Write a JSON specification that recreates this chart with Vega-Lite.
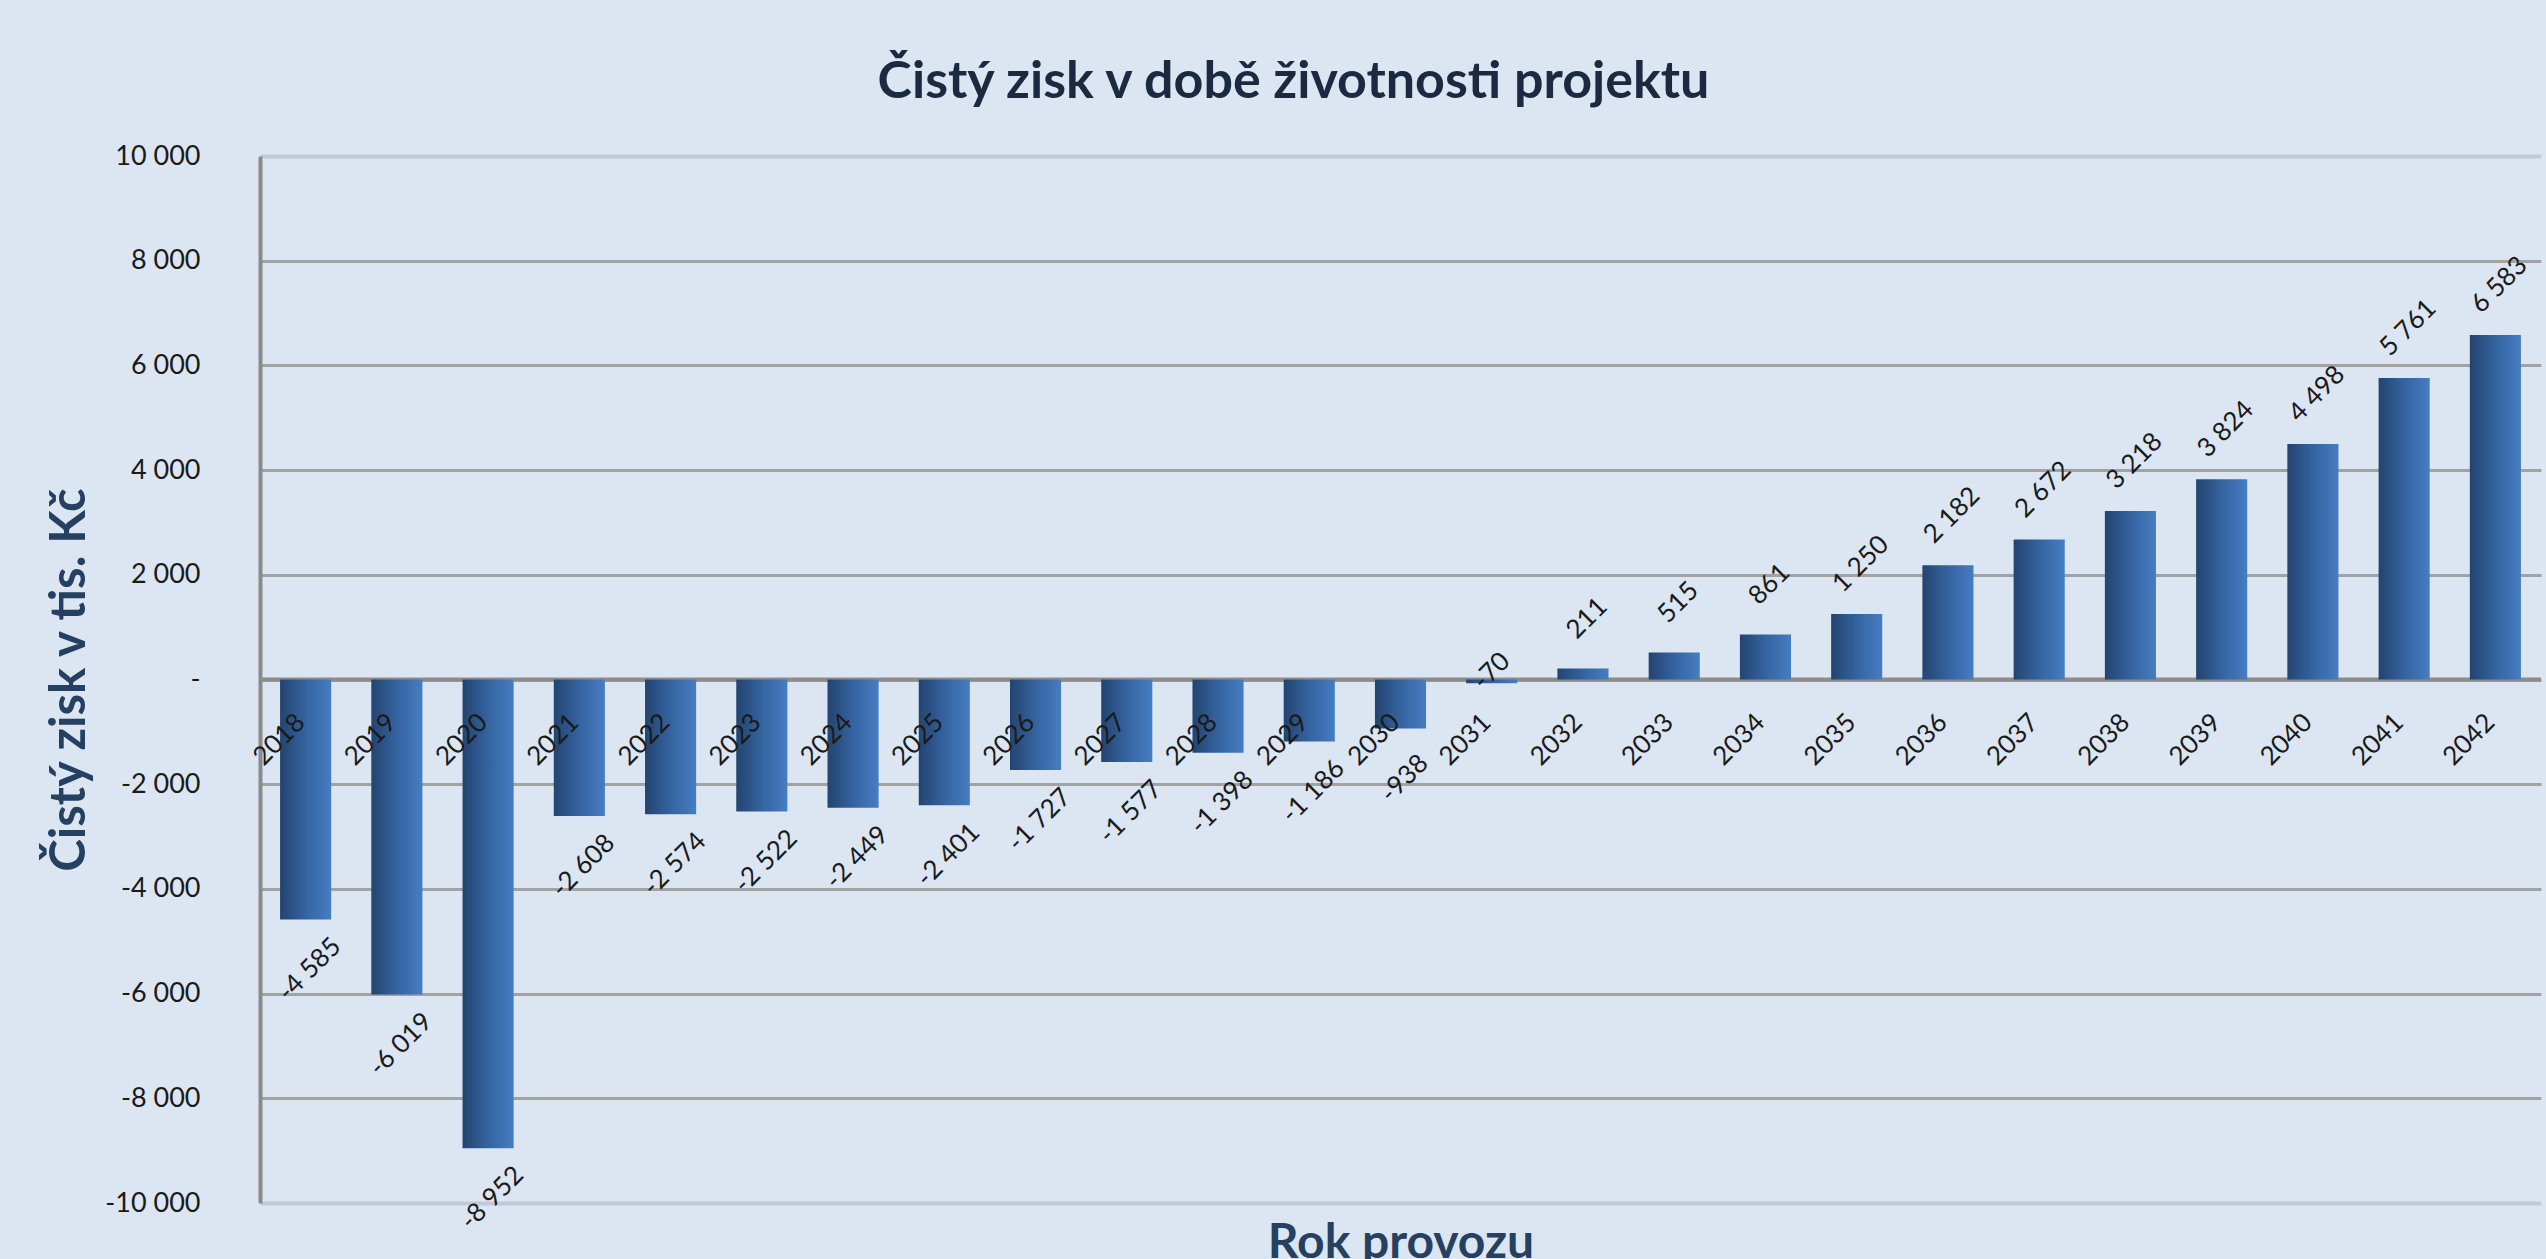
{
  "$schema": "https://vega.github.io/schema/vega-lite/v6.json",
  "width": 2281,
  "height": 1047,
  "autosize": {"type": "none"},
  "padding": {"left": 260, "top": 156, "right": 5, "bottom": 56},
  "background": "#dce6f2",
  "config": {
    "locale": {"number": {"decimal": ",", "thousands": " ", "grouping": [3], "currency": ["", ""], "minus": "-"}},
    "view": {"stroke": null},
    "font": "Lato"
  },
  "title": {
    "text": "Čistý zisk v době životnosti projektu",
    "font": "Lato",
    "fontSize": 52,
    "fontWeight": "bold",
    "color": "#1b2a40",
    "anchor": "middle",
    "dx": -107,
    "dy": 64,
    "baseline": "alphabetic",
    "offset": 56
  },
  "data": {
    "values": [
      {"rok": "2018", "zisk": -4585},
      {"rok": "2019", "zisk": -6019},
      {"rok": "2020", "zisk": -8952},
      {"rok": "2021", "zisk": -2608},
      {"rok": "2022", "zisk": -2574},
      {"rok": "2023", "zisk": -2522},
      {"rok": "2024", "zisk": -2449},
      {"rok": "2025", "zisk": -2401},
      {"rok": "2026", "zisk": -1727},
      {"rok": "2027", "zisk": -1577},
      {"rok": "2028", "zisk": -1398},
      {"rok": "2029", "zisk": -1186},
      {"rok": "2030", "zisk": -938},
      {"rok": "2031", "zisk": -70},
      {"rok": "2032", "zisk": 211},
      {"rok": "2033", "zisk": 515},
      {"rok": "2034", "zisk": 861},
      {"rok": "2035", "zisk": 1250},
      {"rok": "2036", "zisk": 2182},
      {"rok": "2037", "zisk": 2672},
      {"rok": "2038", "zisk": 3218},
      {"rok": "2039", "zisk": 3824},
      {"rok": "2040", "zisk": 4498},
      {"rok": "2041", "zisk": 5761},
      {"rok": "2042", "zisk": 6583}
    ]
  },
  "layer": [
    {
      "data": {"values": [{"nula": 0}]},
      "mark": {"type": "rule", "color": "#8c8c8c", "strokeWidth": 4},
      "encoding": {
        "y": {
          "field": "nula",
          "type": "quantitative",
          "scale": {"domain": [-10000, 10000], "nice": false},
          "axis": {
            "values": [-10000, -8000, -6000, -4000, -2000, 0, 2000, 4000, 6000, 8000, 10000],
            "labelExpr": "datum.value == 0 ? '-\u00a0' : format(datum.value, ',.0f')",
            "labelFont": "Lato",
            "labelFontSize": 27,
            "labelColor": "#1a1a1a",
            "labelPadding": 60,
            "ticks": false,
            "domain": true,
            "domainColor": "#8a8a8a",
            "domainWidth": 4,
            "grid": true,
            "gridColor": {"condition": {"test": "abs(datum.value) == 10000", "value": "#c3cad6"}, "value": "#a2a2a2"},
            "gridWidth": {"condition": {"test": "abs(datum.value) == 10000", "value": 4}, "value": 3},
            "title": "Čistý zisk v tis. Kč",
            "titleFont": "Lato",
            "titleFontSize": 49,
            "titleFontWeight": "bold",
            "titleColor": "#254061",
            "titleAngle": -90,
            "titleAlign": "center",
            "titleBaseline": "alphabetic",
            "titleX": -176,
            "titleY": 523.5
          }
        }
      }
    },
    {
      "mark": {
        "type": "bar",
        "color": {
          "gradient": "linear",
          "x1": 0, "y1": 0, "x2": 1, "y2": 0,
          "stops": [
            {"offset": 0, "color": "#23446f"},
            {"offset": 0.5, "color": "#3563a0"},
            {"offset": 1, "color": "#467dc2"}
          ]
        }
      },
      "encoding": {
        "x": {
          "field": "rok",
          "type": "ordinal",
          "sort": null,
          "scale": {"paddingInner": 0.44, "paddingOuter": 0.22},
          "axis": {
            "labels": false,
            "ticks": false,
            "domain": false,
            "title": "Rok provozu",
            "titleFont": "Lato",
            "titleFontSize": 48,
            "titleFontWeight": "bold",
            "titleColor": "#254061",
            "titleBaseline": "alphabetic",
            "titleY": 54
          }
        },
        "y": {"field": "zisk", "type": "quantitative"}
      }
    },
    {
      "transform": [{"filter": "datum.zisk >= 0"}],
      "mark": {"type": "text", "angle": -45, "align": "center", "baseline": "middle", "font": "Lato", "fontSize": 26, "color": "#1a1a1a", "yOffset": -50, "xOffset": 4},
      "encoding": {
        "x": {"field": "rok", "type": "ordinal", "sort": null},
        "y": {"field": "zisk", "type": "quantitative"},
        "text": {"field": "zisk", "type": "quantitative", "format": ",.0f"}
      }
    },
    {
      "transform": [{"filter": "datum.zisk < -100"}],
      "mark": {"type": "text", "angle": -45, "align": "center", "baseline": "middle", "font": "Lato", "fontSize": 26, "color": "#1a1a1a", "yOffset": 50, "xOffset": 4},
      "encoding": {
        "x": {"field": "rok", "type": "ordinal", "sort": null},
        "y": {"field": "zisk", "type": "quantitative"},
        "text": {"field": "zisk", "type": "quantitative", "format": ",.0f"}
      }
    },
    {
      "transform": [{"filter": "datum.zisk < 0 && datum.zisk >= -100"}],
      "mark": {"type": "text", "angle": -45, "align": "center", "baseline": "middle", "font": "Lato", "fontSize": 26, "color": "#1a1a1a", "yOffset": -12, "xOffset": 0},
      "encoding": {
        "x": {"field": "rok", "type": "ordinal", "sort": null},
        "y": {"field": "zisk", "type": "quantitative"},
        "text": {"field": "zisk", "type": "quantitative", "format": ",.0f"}
      }
    },
    {
      "mark": {"type": "text", "angle": -45, "align": "right", "baseline": "middle", "font": "Lato", "fontSize": 26, "color": "#1a1a1a", "dx": -31, "dy": 24},
      "encoding": {
        "x": {"field": "rok", "type": "ordinal", "sort": null},
        "y": {"datum": 0},
        "text": {"field": "rok", "type": "nominal"}
      }
    }
  ]
}
